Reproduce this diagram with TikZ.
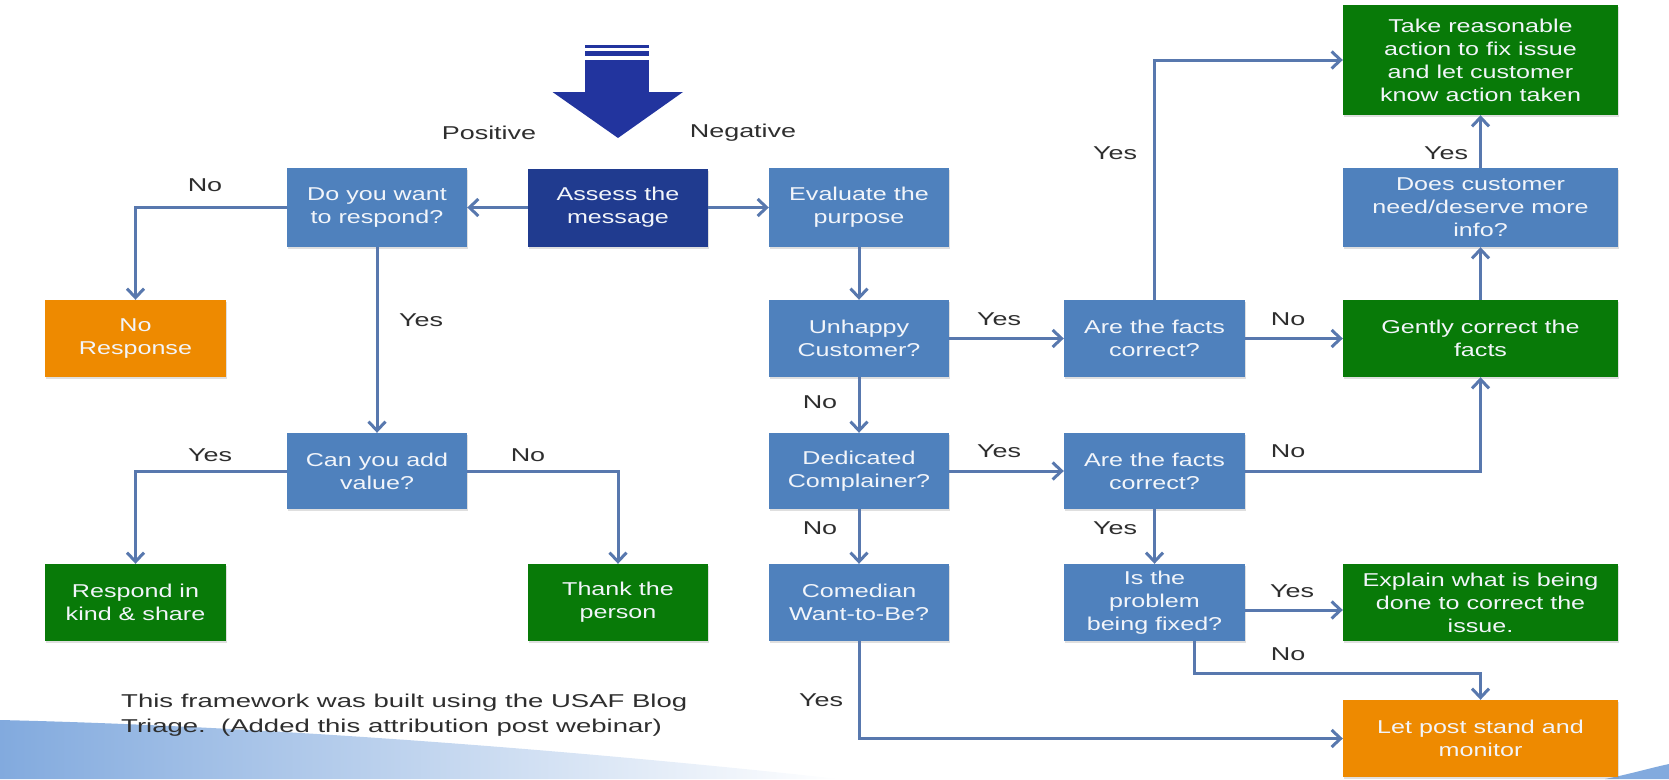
\documentclass[tikz,border=0pt]{standalone}
\usepackage{fontspec}
\setmainfont{Liberation Sans}
\newfontfamily\boxfont[FakeStretch=1.35]{Liberation Sans}
\newfontfamily\lblfont[FakeStretch=1.45]{Liberation Sans}
\newfontfamily\footfont[FakeStretch=1.48]{Liberation Sans}
\usetikzlibrary{arrows.meta,calc,shadows}
\definecolor{midblue}{HTML}{4F81BD}
\definecolor{darkblue}{HTML}{203B8F}
\definecolor{arrowblue}{HTML}{22349E}
\definecolor{boxgreen}{HTML}{087A08}
\definecolor{boxorange}{HTML}{EE8A00}
\definecolor{linecol}{HTML}{5878AE}
\definecolor{lbltext}{HTML}{2E2E2E}
\definecolor{swoosh}{HTML}{82AADE}
\definecolor{boxtext}{HTML}{F2F5FA}
\begin{document}
\begin{tikzpicture}[x=1pt,y=-1pt,
  box/.style={rectangle, inner sep=0pt, align=center, text=boxtext,
    font=\boxfont\fontsize{18.6}{23}\selectfont,
    drop shadow={opacity=0.25, shadow xshift=1pt, shadow yshift=-2pt}},
  qbox/.style={box, fill=midblue},
  dbox/.style={box, fill=darkblue},
  gbox/.style={box, fill=boxgreen},
  obox/.style={box, fill=boxorange},
  narrow/.style={minimum width=180pt},
  wide/.style={minimum width=275pt},
  conn/.style={draw=linecol, line width=3pt, -{Straight Barb[length=9pt,width=17pt]}},
  lbl/.style={text=lbltext, inner sep=0pt, font=\lblfont\fontsize{18.6}{23}\selectfont}
]
\useasboundingbox (0,0) rectangle (1669,779);
% background swooshes
\shade[left color=swoosh, right color=white] (0,720) .. controls (300,727) and (620,755) .. (840,779) -- (0,779) -- cycle;
\fill[swoosh] (1605,779) .. controls (1630,774) and (1650,768) .. (1669,764) -- (1669,779) -- cycle;

% big entry arrow
\fill[arrowblue] (585,45) rectangle (649,47.5);
\fill[arrowblue] (585,51) rectangle (649,56);
\fill[arrowblue] (585,60) rectangle (649,93);
\fill[arrowblue] (552.5,92) -- (683,92) -- (618,138) -- cycle;

% nodes
\node[dbox, narrow, minimum height=78pt] (assess) at (618,207.5) {Assess the\\message};
\node[qbox, narrow, minimum height=79pt] (do) at (377,207.5) {Do you want\\to respond?};
\node[qbox, narrow, minimum height=79pt] (eval) at (859,207.5) {Evaluate the\\purpose};
\node[obox, minimum width=181pt, minimum height=77pt] (noresp) at (135.5,338.5) {No\\Response};
\node[qbox, narrow, minimum height=76pt] (can) at (377,471) {Can you add\\value?};
\node[gbox, minimum width=181pt, minimum height=77pt] (respond) at (135.5,602.5) {Respond in\\kind \& share};
\node[gbox, narrow, minimum height=77pt] (thank) at (618,602.5) {Thank the\\person};

\node[qbox, narrow, minimum height=77pt] (unhappy) at (859,338.5) {Unhappy\\Customer?};
\node[qbox, narrow, minimum height=76pt] (ded) at (859,471) {Dedicated\\Complainer?};
\node[qbox, narrow, minimum height=77pt] (comed) at (859,602.5) {Comedian\\Want-to-Be?};

\node[qbox, minimum width=181pt, minimum height=77pt] (facts1) at (1154.5,338.5) {Are the facts\\correct?};
\node[qbox, minimum width=181pt, minimum height=76pt] (facts2) at (1154.5,471) {Are the facts\\correct?};
\node[qbox, minimum width=181pt, minimum height=77pt] (isprob) at (1154.5,602.5) {Is the\\problem\\being fixed?};

\node[gbox, wide, minimum height=110pt] (take) at (1480.5,60) {Take reasonable\\action to fix issue\\and let customer\\know action taken};
\node[qbox, wide, minimum height=79pt] (does) at (1480.5,207.5) {Does customer\\need/deserve more\\info?};
\node[gbox, wide, minimum height=77pt] (gently) at (1480.5,338.5) {Gently correct the\\facts};
\node[gbox, wide, minimum height=77pt] (explain) at (1480.5,602.5) {Explain what is being\\done to correct the\\issue.};
\node[obox, wide, minimum height=77pt] (letpost) at (1480.5,738.5) {Let post stand and\\monitor};

% connectors
\draw[conn] (assess.west) -- (do.east);
\draw[conn] (assess.east) -- (eval.west);
\draw[conn] (do.west) -| (noresp.north);
\draw[conn] (do.south) -- (can.north);
\draw[conn] (can.west) -| (respond.north);
\draw[conn] (can.east) -| (thank.north);
\draw[conn] (eval.south) -- (unhappy.north);
\draw[conn] (unhappy.east) -- (facts1.west);
\draw[conn] (facts1.east) -- (gently.west);
\draw[conn] (facts1.north) |- (take.west);
\draw[conn] (gently.north) -- (does.south);
\draw[conn] (does.north) -- (take.south);
\draw[conn] (unhappy.south) -- (ded.north);
\draw[conn] (ded.east) -- (facts2.west);
\draw[conn] (facts2.east) -| (gently.south);
\draw[conn] (ded.south) -- (comed.north);
\draw[conn] (facts2.south) -- (isprob.north);
\coordinate (isY) at ($(isprob.east)+(0,7.5)$);
\draw[conn] (isY) -- (isY -| explain.west);
\coordinate (isB) at ($(isprob.south)+(40,0)$);
\draw[conn] (isB) -- ++(0,32) -| (letpost.north);
\draw[conn] (comed.south) |- (letpost.west);

% labels
\node[lbl] (lpos) at (489,133) {Positive};
\node[lbl] (lneg) at (743,133) {Negative};
\node[lbl] (l1) at (205,185) {No};
\node[lbl] (l2) at (421,320) {Yes};
\node[lbl] (l3) at (210,455) {Yes};
\node[lbl] (l4) at (528,455) {No};
\node[lbl] (l5) at (1115,153) {Yes};
\node[lbl] (l6) at (1446,153) {Yes};
\node[lbl] (l7) at (999,319) {Yes};
\node[lbl] (l8) at (1288,319) {No};
\node[lbl] (l9) at (820,402) {No};
\node[lbl] (l10) at (999,451) {Yes};
\node[lbl] (l11) at (1288,451) {No};
\node[lbl] (l12) at (820,528) {No};
\node[lbl] (l13) at (1115,528) {Yes};
\node[lbl] (l14) at (1292,591) {Yes};
\node[lbl] (l15) at (1288,654) {No};
\node[lbl] (l16) at (821,700) {Yes};

% footer
\node[anchor=north west, align=left, inner sep=0pt, text=lbltext,
  font=\footfont\fontsize{18.6}{25}\selectfont] (foot) at (121,694)
  {This framework was built using the USAF Blog\\Triage.\ \ (Added this attribution post webinar)};
\end{tikzpicture}
\end{document}
